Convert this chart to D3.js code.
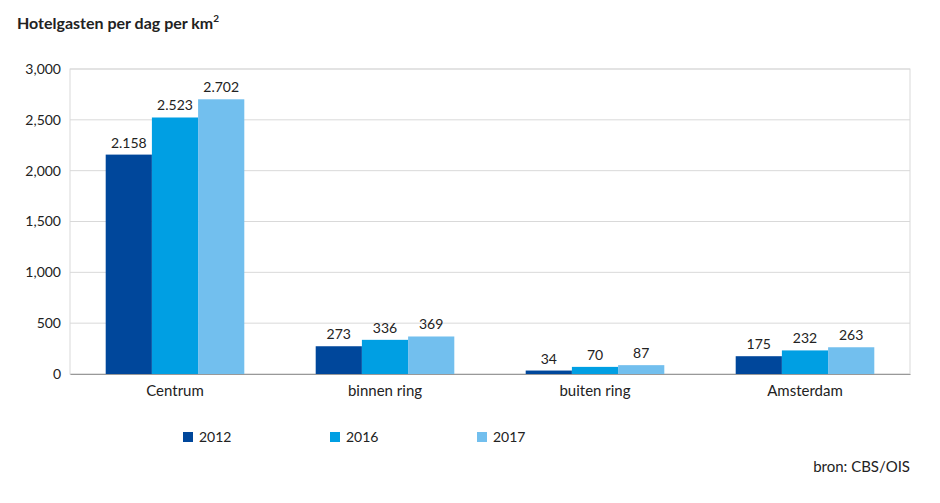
<!DOCTYPE html>
<html><head><meta charset="utf-8">
<script src="https://cdn.jsdelivr.net/npm/d3@7"></script>
<style>body{margin:0;background:#fff;font-family:Lato,"Open Sans",sans-serif}</style>
</head><body><svg id="c" width="940" height="503"></svg>
<script>
const categories = ["Centrum", "binnen ring", "buiten ring", "Amsterdam"];
const years = ["2012", "2016", "2017"];
const v2012 = [2158, 273, 34, 175];
const v2016 = [2523, 336, 70, 232];
const v2017 = [2702, 369, 87, 263];
const yTicks = [0, 500, 1000, 1500, 2000, 2500, 3000];
const colors = ["#00479b", "#009fe3", "#72bfee"];

const svg = d3.select("#c");
const L = 70, R = 910, T = 69, B = 374;
const x = d3.scaleBand().domain(categories).range([L, R]).paddingInner(0.34).paddingOuter(0.17);
const xs = d3.scaleBand().domain(years).range([0, x.bandwidth()]);
const y = d3.scaleLinear().domain([0, 3000]).range([B, T]);
const fmt = v => d3.format(",")(v).replace(",", ".");

svg.append("text").attr("x", 17).attr("y", 29).attr("font-size", 16).attr("font-weight", "bold")
  .attr("fill", "#222").text("Hotelgasten per dag per km").append("tspan").attr("dy", -7).attr("font-size", 10).text("2");

// grid
svg.append("g").selectAll("line").data(yTicks).join("line")
  .attr("x1", L).attr("x2", R).attr("y1", d => y(d)).attr("y2", d => y(d))
  .attr("stroke", "#d9d9d9");
svg.append("rect").attr("x", L).attr("y", T).attr("width", R - L).attr("height", B - T)
  .attr("fill", "none").attr("stroke", "#d9d9d9");

const ya = svg.append("g").attr("transform", `translate(${L},0)`)
  .call(d3.axisLeft(y).tickValues(yTicks).tickSize(0).tickPadding(9));
ya.select(".domain").remove();
ya.selectAll("text").attr("font-size", 14).attr("fill", "#222").attr("font-family", "Lato, sans-serif");

const xa = svg.append("g").attr("transform", `translate(0,${B})`)
  .call(d3.axisBottom(x).tickSize(0).tickPadding(11));
xa.select(".domain").attr("stroke", "#999");
xa.selectAll("text").attr("font-size", 15).attr("fill", "#222").attr("font-family", "Lato, sans-serif");

const series = [v2012, v2016, v2017];
series.forEach((vals, i) => {
  const g = svg.append("g");
  g.selectAll("rect").data(vals).join("rect")
    .attr("x", (d, j) => x(categories[j]) + xs(years[i]))
    .attr("y", d => y(d)).attr("width", xs.bandwidth()).attr("height", d => B - y(d))
    .attr("fill", colors[i]);
  g.selectAll("text").data(vals).join("text")
    .attr("x", (d, j) => x(categories[j]) + xs(years[i]) + xs.bandwidth() / 2)
    .attr("y", d => y(d) - 7).attr("text-anchor", "middle").attr("font-size", 14).attr("fill", "#222")
    .text(fmt);
});

const lx = [183, 330, 477];
const lg = svg.append("g").selectAll("g").data(years).join("g")
  .attr("transform", (d, i) => `translate(${lx[i]},432)`);
lg.append("rect").attr("width", 10).attr("height", 10).attr("fill", (d, i) => colors[i]);
lg.append("text").attr("x", 16).attr("y", 10).attr("font-size", 14).attr("fill", "#222").text(d => d);

svg.append("text").attr("x", 910).attr("y", 472).attr("text-anchor", "end").attr("font-size", 15)
  .attr("fill", "#222").text("bron: CBS/OIS");
</script></body></html>
